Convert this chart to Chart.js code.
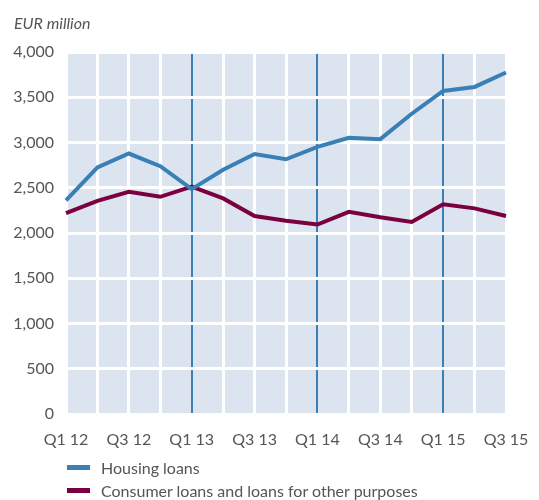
<!DOCTYPE html>
<html>
<head>
<meta charset="utf-8">
<script src="https://cdn.jsdelivr.net/npm/chart.js@4.4.1/dist/chart.umd.min.js"></script>
<style>
    body { margin: 0; background: #fff; }
    #wrap { position: relative; width: 539px; height: 500px; font-family: Lato, "Open Sans", sans-serif; }
    #unit { position: absolute; left: 14px; top: 13px; font-size: 16px; font-style: italic; color: #555; }
    #legend { position: absolute; left: 67px; top: 456px; font-size: 16px; color: #555; }
    .item { display: flex; align-items: center; height: 23px; white-space: nowrap; }
    .swatch { width: 23px; height: 5px; margin-right: 11px; }
</style>
</head>
<body>
<div id="wrap">
    <canvas id="chartLoans" width="539" height="500"></canvas>
    <div id="unit">EUR million</div>
    <div id="legend"></div>
</div>
<script>
// Quarters on the x axis
const quarters = ['Q1 12', 'Q2 12', 'Q3 12', 'Q4 12', 'Q1 13', 'Q2 13', 'Q3 13', 'Q4 13',
    'Q1 14', 'Q2 14', 'Q3 14', 'Q4 14', 'Q1 15', 'Q2 15', 'Q3 15'];

// EUR million
const housingLoans = [2360, 2725, 2878, 2738, 2485, 2698, 2873, 2815, 2952, 3052, 3037, 3318, 3570, 3614, 3773];
const consumerLoans = [2220, 2355, 2455, 2400, 2512, 2382, 2188, 2136, 2094, 2234, 2174, 2122, 2318, 2272, 2188];

const yTicks = [0, 500, 1000, 1500, 2000, 2500, 3000, 3500, 4000];

const seriesNames = ['Housing loans', 'Consumer loans and loans for other purposes'];
const colores = ['#3a7fb6', '#7b0040'];

// Fondo del área del gráfico
const plotBackground = {
    id: 'plotBackground',
    beforeDraw(chart) {
        const { ctx, chartArea: a } = chart;
        ctx.save();
        ctx.fillStyle = '#dbe4ef';
        ctx.fillRect(a.left, a.top, a.right - a.left, a.bottom - a.top);
        ctx.restore();
    }
};

const ctx = document.getElementById('chartLoans').getContext('2d');
new Chart(ctx, {
    type: 'line',
    data: {
        labels: quarters,
        datasets: [
            {
                label: seriesNames[0],
                data: housingLoans,
                borderColor: colores[0],
                borderWidth: 4,
                pointRadius: 0,
                tension: 0
            },
            {
                label: seriesNames[1],
                data: consumerLoans,
                borderColor: colores[1],
                borderWidth: 4,
                pointRadius: 0,
                tension: 0
            }
        ]
    },
    options: {
        responsive: false,
        animation: false,
        layout: { padding: { top: 52, right: 33, left: 0, bottom: 0 } },
        plugins: {
            legend: { display: false },
            tooltip: { enabled: false }
        },
        scales: {
            x: {
                offset: false,
                border: { display: false },
                grid: {
                    drawTicks: false,
                    color: c => (c.index % 4 === 0 && c.index > 0 && c.index < 14) ? '#3a7fb6' : '#ffffff',
                    lineWidth: c => (c.index % 4 === 0 && c.index > 0 && c.index < 14) ? 2 : 3
                },
                ticks: {
                    autoSkip: false,
                    maxRotation: 0,
                    padding: 16,
                    color: '#555',
                    font: { family: 'Lato', size: 16 },
                    callback: (v, i) => i % 2 === 0 ? quarters[i] : ''
                },
                afterFit: scale => {
                    scale.height = 86;
                    scale.paddingLeft = 0;
                    scale.paddingRight = 0;
                }
            },
            y: {
                min: 0,
                max: 4000,
                border: { display: false },
                grid: { drawTicks: false, color: '#ffffff', lineWidth: 3 },
                afterBuildTicks: scale => { scale.ticks = yTicks.map(v => ({ value: v })); },
                ticks: {
                    padding: 12,
                    color: '#555',
                    font: { family: 'Lato', size: 16 },
                    callback: v => v.toLocaleString('en-US')
                },
                afterFit: scale => { scale.width = 66; }
            }
        }
    },
    plugins: [plotBackground]
});

// Leyenda
const legend = document.getElementById('legend');
seriesNames.forEach((name, i) => {
    legend.innerHTML += `<div class="item"><span class="swatch" style="background:${colores[i]}"></span>${name}</div>`;
});
</script>
</body>
</html>
